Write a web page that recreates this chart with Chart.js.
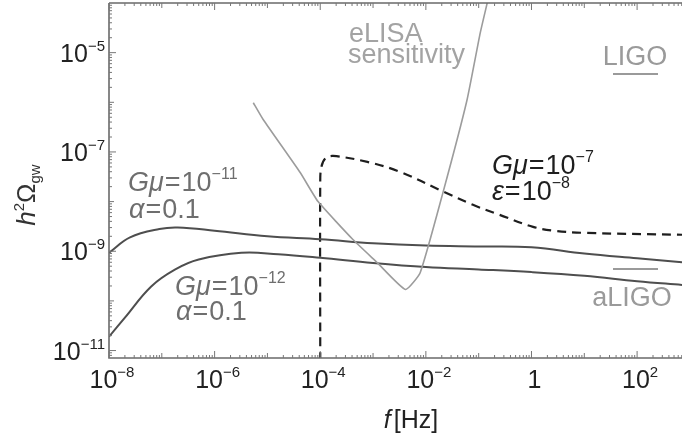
<!DOCTYPE html>
<html>
<head>
<meta charset="utf-8">
<script src="https://cdn.jsdelivr.net/npm/chart.js@4.4.1/dist/chart.umd.min.js"></script>
<style>
html,body{margin:0;padding:0;background:#fff;}
#wrap{width:682px;height:437px;position:relative;}
</style>
</head>
<body>
<div id="wrap"><canvas id="c"></canvas></div>
<script>
// ---- data (frequency in Hz, h^2 Omega_gw) ----
const freqUpper   = [1e-8, 2.5e-8, 9e-8, 2e-7, 1e-6, 1e-5, 1e-4, 1e-3, 1e-2, 1e-1, 1, 10, 100, 708];
const omegaUpper  = [9.3e-10, 1.9e-9, 2.8e-9, 3.0e-9, 2.6e-9, 2.0e-9, 1.75e-9, 1.45e-9, 1.3e-9, 1.25e-9, 1.2e-9, 9.0e-10, 7.2e-10, 6.0e-10];

const freqLower   = [1e-8, 2e-8, 6.3e-8, 1.8e-7, 5e-7, 3.2e-6, 1.6e-5, 1e-4, 1e-3, 1e-2, 1e-1, 1, 10, 100, 708];
const omegaLower  = [1.9e-11, 4.6e-11, 1.95e-10, 4.3e-10, 6.8e-10, 9.3e-10, 8.7e-10, 7.4e-10, 5.8e-10, 4.8e-10, 4.3e-10, 3.8e-10, 3.2e-10, 2.5e-10, 2.1e-10];

const freqDashed  = [1e-4, 1e-4, 1.05e-4, 1.25e-4, 1.75e-4, 7.8e-4, 3.2e-3, 2.1e-2, 7.8e-2, 2.5e-1, 1.07, 2.6, 9.5, 708];
const omegaDashed = [6e-12, 2.7e-8, 5e-8, 7.4e-8, 8.3e-8, 6.3e-8, 4.0e-8, 1.6e-8, 8.6e-9, 5.4e-9, 3.1e-9, 2.6e-9, 2.35e-9, 2.15e-9];

const freqElisa   = [5.4e-6, 8.3e-6, 4.2e-5, 9.1e-5, 4.2e-4, 1.2e-3, 4.1e-3, 7.8e-3, 2.1e-2, 6e-2, 1.07e-1, 1.45e-1];
const omegaElisa  = [9.8e-7, 4.5e-7, 3.8e-8, 1e-8, 1.7e-9, 5.9e-10, 1.7e-10, 3.7e-10, 1.5e-8, 1.1e-6, 2.5e-5, 1e-4];

// tick labels: [base, exponent]
const xTickValues = [1e-8, 1e-6, 1e-4, 1e-2, 1, 1e2];
const xTickLabels = [['10','−8'], ['10','−6'], ['10','−4'], ['10','−2'], ['1',''], ['10','2']];
const yTickValues = [1e-5, 1e-7, 1e-9, 1e-11];
const yTickLabels = [['10','−5'], ['10','−7'], ['10','−9'], ['10','−11']];

const X_MIN = 1e-8, X_MAX = 708, Y_MIN = 7.08e-12, Y_MAX = 1e-4;

function pts(xs, ys){ return xs.map((x,i)=>({x:x, y:ys[i]})); }

const FONT = '"Liberation Sans", Arial, Helvetica, sans-serif';

function runsWidth(ctx, runs){
  let w = 0;
  for (const r of runs){
    ctx.font = (r.it ? 'italic ' : '') + r.s + 'px ' + FONT;
    w += ctx.measureText(r.t).width + (r.gap || 0);
  }
  return w;
}
function drawRuns(ctx, x, y, runs, align, color){
  const w = runsWidth(ctx, runs);
  let cx = x;
  if (align === 'center') cx = x - w/2;
  else if (align === 'right') cx = x - w;
  ctx.fillStyle = color;
  ctx.textBaseline = 'alphabetic';
  ctx.textAlign = 'left';
  for (const r of runs){
    ctx.font = (r.it ? 'italic ' : '') + r.s + 'px ' + FONT;
    ctx.fillText(r.t, cx, y + (r.dy || 0));
    cx += ctx.measureText(r.t).width + (r.gap || 0);
  }
}

const decor = {
  id: 'decor',
  afterDraw(chart){
    const ctx = chart.ctx;
    const xs = chart.scales.x, ys = chart.scales.y;
    const a = chart.chartArea;
    ctx.save();
    // frame
    ctx.strokeStyle = '#6a6a6a';
    ctx.lineWidth = 1.6;
    ctx.beginPath();
    ctx.moveTo(a.left, a.top); ctx.lineTo(a.left, a.bottom); ctx.lineTo(a.right, a.bottom);
    ctx.moveTo(a.left, a.top); ctx.lineTo(a.right, a.top);
    ctx.stroke();
    // ticks
    ctx.lineWidth = 1;
    ctx.strokeStyle = '#777';
    ctx.beginPath();
    for (let e = -8; e <= 2; e++){
      for (let m = 1; m <= 9; m++){
        const v = m * Math.pow(10, e);
        if (v < X_MIN || v > X_MAX) continue;
        const px = xs.getPixelForValue(v);
        const len = (m === 1) ? ((e % 2 === 0) ? 7 : 5) : 3;
        ctx.moveTo(px, a.bottom); ctx.lineTo(px, a.bottom - len);
        ctx.moveTo(px, a.top); ctx.lineTo(px, a.top + len);
      }
    }
    for (let e = -12; e <= -5; e++){
      for (let m = 1; m <= 9; m++){
        const v = m * Math.pow(10, e);
        if (v < Y_MIN || v > Y_MAX) continue;
        const py = ys.getPixelForValue(v);
        const len = (m === 1) ? ((e % 2 !== 0) ? 7 : 5) : 3;
        ctx.moveTo(a.left, py); ctx.lineTo(a.left + len, py);
      }
    }
    ctx.stroke();

    // x tick labels
    xTickValues.forEach((v, i) => {
      const px = xs.getPixelForValue(v);
      const lab = xTickLabels[i];
      const runs = [{t: lab[0], s: 25}];
      if (lab[1]) runs.push({t: lab[1], s: 15, dy: -11});
      drawRuns(ctx, px + 3, 388, runs, 'center', '#222');
    });
    // y tick labels
    yTickValues.forEach((v, i) => {
      const py = ys.getPixelForValue(v);
      const lab = yTickLabels[i];
      const runs = [{t: lab[0], s: 25}, {t: lab[1], s: 15, dy: -11}];
      drawRuns(ctx, 105, py + 9, runs, 'right', '#222');
    });
    // x axis title
    drawRuns(ctx, 411, 428, [{t:'f', s:25, it:true, gap:3}, {t:'[Hz]', s:25}], 'center', '#222');
    // y axis title (rotated)
    ctx.save();
    ctx.translate(35, 195);
    ctx.rotate(-Math.PI/2);
    drawRuns(ctx, 0, 0, [{t:'h', s:26, it:true}, {t:'2', s:15, dy:-11}, {t:'Ω', s:26}, {t:'gw', s:15, dy:5}], 'center', '#333');
    ctx.restore();

    // annotations
    const gray = '#6e6e6e';
    const S = 27;
    drawRuns(ctx, 128, 191, [{t:'G', s:S, it:true}, {t:'μ', s:S, it:true, gap:1}, {t:'=', s:S, gap:1}, {t:'10', s:S}, {t:'−11', s:16, dy:-12}], 'left', gray);
    drawRuns(ctx, 129, 218, [{t:'α', s:S, it:true, gap:1}, {t:'=', s:S, gap:1}, {t:'0.1', s:S}], 'left', gray);
    drawRuns(ctx, 175, 295, [{t:'G', s:S, it:true}, {t:'μ', s:S, it:true, gap:1}, {t:'=', s:S, gap:1}, {t:'10', s:S}, {t:'−12', s:16, dy:-12}], 'left', gray);
    drawRuns(ctx, 176, 320, [{t:'α', s:S, it:true, gap:1}, {t:'=', s:S, gap:1}, {t:'0.1', s:S}], 'left', gray);

    drawRuns(ctx, 492, 174, [{t:'G', s:S, it:true}, {t:'μ', s:S, it:true, gap:1}, {t:'=', s:S, gap:1}, {t:'10', s:S}, {t:'−7', s:16, dy:-12}], 'left', '#1e1e1e');
    drawRuns(ctx, 492, 200, [{t:'ε', s:S, it:true, gap:1}, {t:'=', s:S, gap:1}, {t:'10', s:S}, {t:'−8', s:16, dy:-12}], 'left', '#1e1e1e');

    const lg = '#a3a3a3';
    drawRuns(ctx, 349, 42, [{t:'eLISA', s:S}], 'left', lg);
    drawRuns(ctx, 348, 63, [{t:'sensitivity', s:S}], 'left', lg);
    drawRuns(ctx, 635, 65, [{t:'LIGO', s:S}], 'center', '#9a9a9a');
    drawRuns(ctx, 632, 306, [{t:'aLIGO', s:S}], 'center', '#9a9a9a');
    ctx.strokeStyle = '#9a9a9a';
    ctx.lineWidth = 2;
    ctx.beginPath();
    ctx.moveTo(613, 74); ctx.lineTo(658, 74);
    ctx.moveTo(613, 269); ctx.lineTo(658, 269);
    ctx.stroke();
    ctx.restore();
  }
};

new Chart(document.getElementById('c'), {
  type: 'scatter',
  data: {
    datasets: [
      { data: pts(freqElisa, omegaElisa), showLine: true, borderColor: '#9c9c9c', borderWidth: 1.6, tension: 0.15, pointRadius: 0 },
      { data: pts(freqUpper, omegaUpper), showLine: true, borderColor: '#4e4e4e', borderWidth: 2, tension: 0.4, pointRadius: 0 },
      { data: pts(freqLower, omegaLower), showLine: true, borderColor: '#4e4e4e', borderWidth: 2, tension: 0.4, pointRadius: 0 },
      { data: pts(freqDashed, omegaDashed), showLine: true, borderColor: '#1e1e1e', borderWidth: 2.2, borderDash: [9, 6], tension: 0.35, pointRadius: 0 }
    ]
  },
  options: {
    responsive: true,
    maintainAspectRatio: false,
    animation: false,
    layout: { padding: { left: 109, top: 3, right: 0, bottom: 79 } },
    plugins: { legend: { display: false }, tooltip: { enabled: false } },
    scales: {
      x: { type: 'logarithmic', min: X_MIN, max: X_MAX, display: true,
           grid: { display: false, drawTicks: false }, border: { display: false },
           ticks: { display: false } },
      y: { type: 'logarithmic', min: Y_MIN, max: Y_MAX, display: true,
           grid: { display: false, drawTicks: false }, border: { display: false },
           ticks: { display: false } }
    }
  },
  plugins: [decor]
});
</script>
</body>
</html>
